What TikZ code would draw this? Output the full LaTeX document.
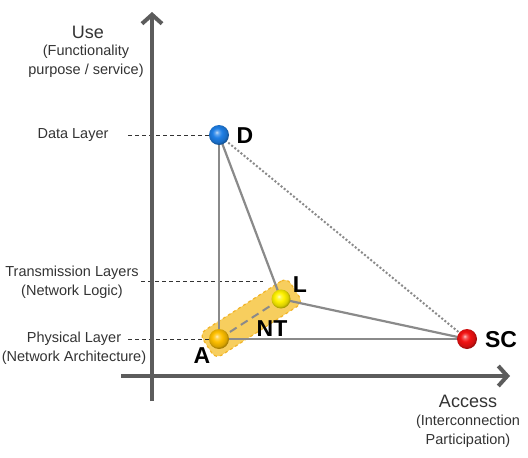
\documentclass[tikz,border=0pt]{standalone}
\usepackage{fontspec}
\setmainfont{Liberation Sans}
\usetikzlibrary{arrows.meta,calc,backgrounds}
\definecolor{axisgray}{HTML}{5C5C5C}
\definecolor{linegray}{HTML}{8A8A8A}
\definecolor{txtgray}{HTML}{333333}
\definecolor{bandfill}{HTML}{F5C236}
\definecolor{banddraw}{HTML}{F2B428}
\definecolor{dblue}{HTML}{1E7FE6}
\definecolor{aorange}{HTML}{FFC000}
\definecolor{lyellow}{HTML}{FFF200}
\definecolor{scred}{HTML}{F21212}
\newcommand{\mkball}[2]{%
  \pgfdeclareradialshading{#1}{\pgfpoint{-6bp}{7bp}}{%
    color(0bp)=(#2!25!white); color(5bp)=(#2!70!white); color(12bp)=(#2);
    color(22bp)=(#2!85!black); color(26bp)=(#2!65!black); color(50bp)=(#2!65!black)}}
\mkball{shD}{dblue}
\mkball{shA}{aorange}
\mkball{shL}{lyellow}
\mkball{shSC}{scred}
\tikzset{
  axisline/.style={draw=axisgray, line width=4pt, -{Straight Barb[length=9pt,width=20pt]}},
  conn/.style={draw=linegray, line width=2.2pt},
  dotconn/.style={draw=linegray, line width=2pt, dash pattern=on 2pt off 2pt},
  dashconn/.style={draw=linegray, line width=2pt, dash pattern=on 8pt off 5pt},
  guide/.style={draw=txtgray, line width=0.9pt, dash pattern=on 4pt off 3pt},
  sphere/.style={circle, minimum size=20pt, inner sep=0pt},
  small/.style={text=txtgray, font=\fontsize{14.5}{19}\selectfont, align=center, inner sep=0pt},
  big/.style={text=txtgray, font=\fontsize{18}{19}\selectfont, inner sep=0pt},
  letter/.style={text=black, font=\bfseries\fontsize{23}{23}\selectfont, inner sep=0pt},
  band/.style={rectangle, rounded corners=7pt, fill=bandfill, fill opacity=0.8, draw=banddraw, dashed, line width=1.2pt, minimum width=104pt, minimum height=30pt}
}
\begin{document}
\begin{tikzpicture}[x=1pt,y=-1pt]
\useasboundingbox (0,0) rectangle (528,458);
% axes
\coordinate (vbot) at (152,401);
\coordinate (vtop) at (152,12);
\coordinate (hleft) at (121,376);
\coordinate (hright) at (510,376);
\draw[axisline] (vbot) -- (vtop);
\draw[axisline] (hleft) -- (hright);
% spheres
\node[sphere, shading=shD] (D) at (219,135) {};
\node[sphere, shading=shA] (A) at (219,339) {};
\node[sphere, shading=shL, minimum size=19pt] (L) at (281,299) {};
\node[sphere, shading=shSC] (SC) at (467,339) {};
% letters
\node[letter] (lD) at (245,136) {D};
\node[letter] (lL) at (300,285) {L};
\node[letter] (lNT) at (272,329) {NT};
\node[letter] (lA) at (202,356) {A};
\node[letter] (lSC) at (501,340) {SC};
% axis titles
\node[big] (use) at (88,32) {Use};
\node[small] (usesub) at (86,61) {(Functionality\\purpose / service)};
\node[big] (acc) at (468,401) {Access};
\node[small] (accsub) at (468,431) {(Interconnection\\Participation)};
% layer labels
\node[small] (dl) at (73,135) {Data Layer};
\node[small] (tl) at (72,282) {Transmission Layers\\(Network Logic)};
\node[small] (pl) at (74,348) {Physical Layer\\(Network Architecture)};
\coordinate (gd) at (128,135);
\coordinate (gt1) at (141,281);
\coordinate (gt2) at (263,281);
\coordinate (gp) at (128,339);
\begin{pgfonlayer}{background}
\node[band, rotate=32.8] (hl) at ($(A)!0.52!(L)$) {};
\draw[guide] (gd) -- (D);
\draw[guide] (gt1) -- (gt2);
\draw[guide] (gp) -- (A);
\draw[conn] (D.center) -- (A.center);
\draw[conn] (D.center) -- (L.center);
\draw[conn] (L.center) -- (SC.center);
\draw[conn] (A.center) -- (SC.center);
\draw[dotconn] (D.center) -- (SC.center);
\draw[dashconn] (A.center) -- (L.center);
\end{pgfonlayer}
\end{tikzpicture}
\end{document}
